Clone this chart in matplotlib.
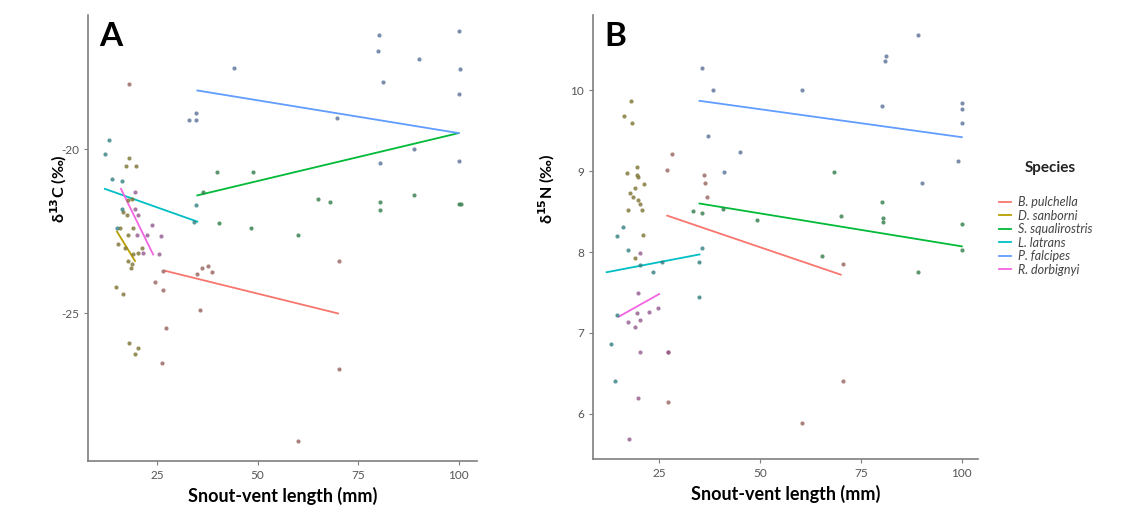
import matplotlib.pyplot as plt
import matplotlib.colors as mcolors
import numpy as np

plt.rcParams['font.family'] = ['Lato', 'DejaVu Sans']
plt.rcParams['axes.unicode_minus'] = False

species = ["B. pulchella", "D. sanborni", "S. squalirostris", "L. latrans", "P. falcipes", "R. dorbignyi"]
colors = ["#F8766D", "#B79F00", "#00BA38", "#00BFC4", "#619CFF", "#F564E3"]

# ---- panel A: d13C ----
a_svl = {
    "B. pulchella": [26.5, 34.9, 36.2, 37.7, 38.7, 24.5, 26.5, 35.7, 27.2, 26.2, 70.3, 60.1, 70.3, 18.0],
    "D. sanborni": [18.0, 17.3, 19.8, 18.8, 17.8, 16.5, 17.5, 15.8, 19.0, 17.8, 15.3, 17.0, 19.0, 20.3,
                    21.3, 17.8, 18.8, 18.5, 14.8, 16.5, 18.0, 20.3, 19.5],
    "S. squalirostris": [36.4, 40.0, 48.9, 40.4, 48.4, 65.0, 68.0, 80.5, 80.5, 89.0, 100.0, 100.6, 60.0],
    "L. latrans": [12.1, 13.1, 13.8, 16.3, 34.7, 34.2, 15.0, 16.3],
    "P. falcipes": [34.7, 33.0, 34.7, 44.2, 69.8, 80.2, 100.1, 80.0, 90.2, 100.4, 81.2, 100.0, 89.0, 80.5, 100.0],
    "R. dorbignyi": [19.5, 19.5, 20.3, 23.8, 20.0, 22.5, 26.0, 21.5, 25.5],
}
a_d13c = {
    "B. pulchella": [-23.7, -23.8, -23.6, -23.55, -23.75, -24.05, -24.3, -24.9, -25.45, -26.5, -26.7, -28.9, -23.4, -18.0],
    "D. sanborni": [-20.25, -20.5, -20.5, -21.5, -21.55, -21.9, -22.0, -22.4, -22.4, -22.6, -22.87, -23.0, -23.2, -23.15,
                    -23.0, -23.4, -23.5, -23.6, -24.2, -24.4, -25.9, -26.05, -26.25],
    "S. squalirostris": [-21.3, -20.7, -20.7, -22.25, -22.4, -21.5, -21.6, -21.6, -21.85, -21.4, -21.65, -21.65, -22.6],
    "L. latrans": [-20.15, -19.7, -20.9, -20.95, -21.7, -22.2, -22.4, -21.8],
    "P. falcipes": [-18.9, -19.1, -19.1, -17.5, -19.05, -16.5, -16.4, -17.0, -17.25, -17.55, -17.95, -18.3, -20.0, -20.4, -20.35],
    "R. dorbignyi": [-21.3, -21.8, -22.0, -22.3, -22.6, -22.6, -22.65, -23.15, -23.2],
}
# fitted lines (start, end)
a_fit_x = {
    "B. pulchella": [27, 70], "D. sanborni": [15, 19.5], "S. squalirostris": [35, 100],
    "L. latrans": [12, 35], "P. falcipes": [35, 100], "R. dorbignyi": [16, 24],
}
a_fit_y = {
    "B. pulchella": [-23.7, -25.0], "D. sanborni": [-22.5, -23.4], "S. squalirostris": [-21.4, -19.5],
    "L. latrans": [-21.2, -22.2], "P. falcipes": [-18.2, -19.5], "R. dorbignyi": [-21.2, -23.2],
}

# ---- panel B: d15N ----
b_svl = {
    "B. pulchella": [28.2, 27.0, 36.1, 36.4, 36.9, 27.2, 27.2, 70.5, 70.5, 60.4],
    "D. sanborni": [19.6, 17.1, 19.6, 19.8, 21.3, 19.1, 17.8, 18.6, 19.8, 20.3, 17.3, 20.8, 16.3, 18.3, 18.1,
                    19.1, 21.1],
    "S. squalirostris": [33.4, 35.6, 40.8, 49.3, 70.0, 80.4, 80.4, 100.0, 100.0, 65.3, 89.1, 68.3, 80.2],
    "L. latrans": [16.1, 14.6, 14.6, 13.1, 14.1, 35.6, 34.9, 34.9, 23.5, 25.7, 20.3, 17.3],
    "P. falcipes": [35.6, 38.4, 37.1, 45.0, 89.1, 81.2, 80.9, 60.4, 80.2, 100.0, 100.0, 100.0, 99.0, 90.1, 41.1],
    "R. dorbignyi": [19.6, 17.3, 20.3, 19.1, 22.5, 24.8, 19.8, 20.3, 19.8, 17.6, 20.3, 27.2],
}
b_d15n = {
    "B. pulchella": [9.21, 9.02, 8.95, 8.85, 8.68, 6.76, 6.14, 7.85, 6.4, 5.89],
    "D. sanborni": [9.05, 8.98, 8.95, 8.93, 8.84, 8.79, 8.73, 8.68, 8.64, 8.60, 8.52, 8.52, 9.68, 9.59, 9.87,
                    7.93, 8.21],
    "S. squalirostris": [8.51, 8.48, 8.53, 8.40, 8.44, 8.42, 8.37, 8.35, 8.02, 7.95, 7.75, 8.99, 8.62],
    "L. latrans": [8.31, 8.2, 7.22, 6.86, 6.4, 8.05, 7.88, 7.44, 7.75, 7.88, 7.84, 8.02],
    "P. falcipes": [10.28, 10.0, 9.43, 9.24, 10.69, 10.43, 10.36, 10.0, 9.8, 9.84, 9.77, 9.6, 9.12, 8.85, 8.99],
    "R. dorbignyi": [7.25, 7.14, 7.16, 7.07, 7.26, 7.31, 7.49, 6.76, 6.19, 5.69, 7.99, 6.76],
}
b_fit_x = {
    "B. pulchella": [27, 70], "S. squalirostris": [35, 100],
    "L. latrans": [12, 35], "P. falcipes": [35, 100], "R. dorbignyi": [15, 25],
}
b_fit_y = {
    "B. pulchella": [8.45, 7.72], "S. squalirostris": [8.6, 8.07],
    "L. latrans": [7.75, 7.97], "P. falcipes": [9.87, 9.42], "R. dorbignyi": [7.2, 7.48],
}


def point_color(c):
    rgb = np.array(mcolors.to_rgb(c))
    return 0.4 * rgb + 0.6 * np.array([0.33, 0.33, 0.33])


def draw_panel(ax, svl, vals, fit_x, fit_y):
    for sp, c in zip(species, colors):
        ax.scatter(svl[sp], vals[sp], s=9, color=point_color(c), alpha=0.8, linewidths=0, zorder=3)
        if sp in fit_x:
            ax.plot(fit_x[sp], fit_y[sp], color=c, lw=1.3, zorder=2)
    for s in ["top", "right"]:
        ax.spines[s].set_visible(False)
    for s in ["left", "bottom"]:
        ax.spines[s].set_color("#7f7f7f")
        ax.spines[s].set_linewidth(1.2)
    ax.tick_params(colors="#7f7f7f", labelcolor="#555555", labelsize=8.5, length=3)
    ax.set_xticks([25, 50, 75, 100])
    ax.set_xlabel("Snout-vent length (mm)", fontsize=13, fontweight="bold", labelpad=4)


fig = plt.figure(figsize=(11.28, 5.12), dpi=100)
ax1 = fig.add_axes([0.078, 0.0996, 0.345, 0.871])
ax2 = fig.add_axes([0.526, 0.1035, 0.341, 0.867])

draw_panel(ax1, a_svl, a_d13c, a_fit_x, a_fit_y)
ax1.set_xlim(7.8, 104.6)
ax1.set_ylim(-29.5, -15.9)
ax1.set_yticks([-25, -20])
ax1.set_ylabel(r"δ$^{\mathbf{13}}$C (‰)", fontsize=11.5, fontweight="bold")
ax1.yaxis.set_label_coords(-0.048, 0.61)
ax1.text(0.03, 0.985, "A", transform=ax1.transAxes, fontsize=24, fontweight="bold", va="top")

draw_panel(ax2, b_svl, b_d15n, b_fit_x, b_fit_y)
ax2.set_xlim(8.7, 104)
ax2.set_ylim(5.44, 10.93)
ax2.set_yticks([6, 7, 8, 9, 10])
ax2.set_ylabel(r"δ$^{\mathbf{15}}$N (‰)", fontsize=11.5, fontweight="bold")
ax2.yaxis.set_label_coords(-0.095, 0.61)
ax2.text(0.03, 0.985, "B", transform=ax2.transAxes, fontsize=24, fontweight="bold", va="top")

fig.text(1050 / 1128, 1 - 168 / 512, "Species", ha="center", va="center",
         fontsize=11, fontweight="bold", color="#222222")
handles = [plt.Line2D([], [], color=c, lw=1.3) for c in colors]
leg = fig.legend(handles, species, loc="upper left", bbox_to_anchor=(988 / 1128, 1 - 185 / 512),
                 frameon=False, handlelength=0.9, handletextpad=0.6,
                 labelspacing=0.12, prop={"size": 9, "style": "italic"})
for t in leg.get_texts():
    t.set_color("#444444")

fig.savefig("out.png", dpi=100)
